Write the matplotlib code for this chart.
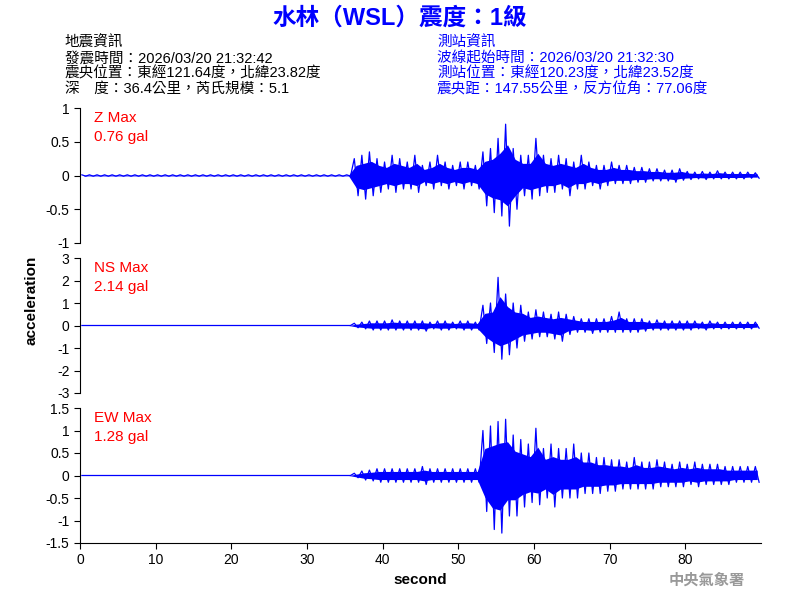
import numpy as np
import matplotlib
matplotlib.use("Agg")
import matplotlib.pyplot as plt

plt.rcParams['font.family'] = ['Liberation Sans', 'Noto Sans CJK TC']

sec = list(range(0, 90))
# envelope (max/min per 1 s bin)
z_max = [0.01] * 36 + [0.25,0.3,0.35,0.25,0.2,0.3,0.25,0.2,0.3,0.15,0.2,0.3,0.2,0.15,0.2,0.2,0.15,0.35,0.4,0.55,0.76,0.4,0.3,0.3,0.55,0.3,0.25,0.3,0.25,0.2,0.3,0.2,0.15,0.15,0.2,0.15,0.15,0.12,0.12,0.1,0.1,0.08,0.08,0.1,0.06,0.05,0.06,0.05,0.07,0.05,0.05,0.05,0.05,0.04]
z_min = [-0.01] * 36 + [-0.3,-0.35,-0.3,-0.25,-0.2,-0.25,-0.2,-0.2,-0.25,-0.15,-0.2,-0.15,-0.2,-0.15,-0.2,-0.15,-0.2,-0.45,-0.55,-0.6,-0.75,-0.5,-0.3,-0.35,-0.3,-0.25,-0.25,-0.2,-0.3,-0.2,-0.2,-0.15,-0.2,-0.15,-0.12,-0.12,-0.12,-0.1,-0.1,-0.08,-0.08,-0.08,-0.1,-0.07,-0.06,-0.05,-0.06,-0.05,-0.05,-0.05,-0.05,-0.05,-0.04,-0.04]
ns_max = [0.0] * 36 + [0.1,0.15,0.2,0.2,0.2,0.25,0.2,0.2,0.2,0.2,0.15,0.2,0.2,0.15,0.2,0.2,0.15,0.9,1.0,2.14,1.4,1.0,0.9,0.6,0.7,0.6,0.5,0.6,0.5,0.4,0.3,0.3,0.3,0.3,0.4,0.6,0.3,0.3,0.3,0.2,0.25,0.2,0.2,0.2,0.2,0.2,0.15,0.2,0.15,0.15,0.15,0.15,0.15,0.15]
ns_min = [0.0] * 36 + [-0.1,-0.15,-0.2,-0.2,-0.2,-0.2,-0.2,-0.2,-0.2,-0.25,-0.15,-0.2,-0.2,-0.15,-0.2,-0.2,-0.2,-0.8,-1.2,-1.5,-1.3,-1.0,-0.7,-0.6,-0.5,-0.5,-0.6,-0.7,-0.4,-0.3,-0.3,-0.35,-0.3,-0.3,-0.3,-0.3,-0.3,-0.3,-0.25,-0.2,-0.2,-0.2,-0.2,-0.2,-0.2,-0.15,-0.2,-0.15,-0.15,-0.15,-0.15,-0.15,-0.15,-0.12]
ew_max = [0.0] * 36 + [0.05,0.1,0.12,0.15,0.15,0.15,0.15,0.15,0.15,0.2,0.15,0.15,0.15,0.15,0.15,0.15,0.15,1.0,1.1,1.2,1.25,0.9,0.8,0.7,1.05,0.6,0.7,0.6,0.6,0.7,0.5,0.5,0.4,0.4,0.35,0.35,0.3,0.4,0.3,0.3,0.35,0.3,0.25,0.3,0.25,0.3,0.25,0.25,0.25,0.2,0.2,0.2,0.2,0.2]
ew_min = [0.0] * 36 + [-0.05,-0.1,-0.12,-0.15,-0.15,-0.15,-0.15,-0.15,-0.15,-0.2,-0.15,-0.15,-0.15,-0.15,-0.15,-0.15,-0.15,-0.8,-1.2,-1.28,-0.9,-0.9,-0.7,-0.6,-0.65,-0.5,-0.7,-0.5,-0.5,-0.5,-0.4,-0.4,-0.4,-0.35,-0.35,-0.3,-0.3,-0.3,-0.3,-0.3,-0.25,-0.25,-0.25,-0.25,-0.2,-0.25,-0.2,-0.2,-0.2,-0.2,-0.15,-0.15,-0.15,-0.15]

labels = ['Z Max\n0.76 gal', 'NS Max\n2.14 gal', 'EW Max\n1.28 gal']
ylims = [(-1, 1), (-3, 3), (-1.5, 1.5)]
yticks = [[-1, -0.5, 0, 0.5, 1], [-3, -2, -1, 0, 1, 2, 3], [-1.5, -1, -0.5, 0, 0.5, 1, 1.5]]

fig = plt.figure(figsize=(8, 6), dpi=100)
tops = [108, 258, 408]
for i, (mx, mn) in enumerate([(z_max, z_min), (ns_max, ns_min), (ew_max, ew_min)]):
    ax = fig.add_axes([80/800, 1 - (tops[i] + 135)/600, 681/800, 135/600])
    t = np.array(sec, dtype=float) + 0.5
    mxa, mna = np.array(mx), np.array(mn)
    zz_t = np.ravel(np.column_stack([t - 0.25, t + 0.25]))
    zz_v = np.ravel(np.column_stack([mxa, mna]))
    ax.fill_between(t, 0.6 * mna, 0.6 * mxa, color='#0000ff', lw=0)
    ax.plot(zz_t, zz_v, color='#0000ff', lw=0.9)
    ax.set_xlim(0, 90)
    ax.set_ylim(*ylims[i])
    ax.set_yticks(yticks[i])
    ax.set_yticklabels([f'{v:g}' for v in yticks[i]])
    for s in ['top', 'right']:
        ax.spines[s].set_visible(False)
    if i < 2:
        ax.spines['bottom'].set_visible(False)
        ax.set_xticks([])
    else:
        ax.set_xticks(range(0, 90, 10))
        ax.set_xlabel('second', fontsize=11, fontweight='bold')
    ax.tick_params(labelsize=10, length=4)
    ax.text(0.02, 0.98, labels[i], transform=ax.transAxes, color='red', fontsize=11, va='top', linespacing=1.5)

fig.text(0.04, 0.5, 'acceleration', rotation=90, va='center', ha='center', fontsize=11, fontweight='bold')
fig.text(0.5, 0.97, '水林（WSL）震度：1級', color='#0000ff', fontsize=17, fontweight='bold', ha='center', va='center')
left = '地震資訊\n發震時間：2026/03/20 21:32:42\n震央位置：東經121.64度，北緯23.82度\n深　度：36.4公里，芮氏規模：5.1'
right = '測站資訊\n波線起始時間：2026/03/20 21:32:30\n測站位置：東經120.23度，北緯23.52度\n震央距：147.55公里，反方位角：77.06度'
fig.text(65/800, 1 - 36/600, left, fontsize=10.5, va='top', linespacing=1.1)
fig.text(437/800, 1 - 36/600, right, fontsize=10.5, va='top', color='#0000ff', linespacing=1.1)
fig.text(745/800, 1 - 580/600, '中央氣象署', fontsize=11, color='#999999', ha='right', va='center', fontweight='bold')
fig.savefig('out.png', dpi=100)
